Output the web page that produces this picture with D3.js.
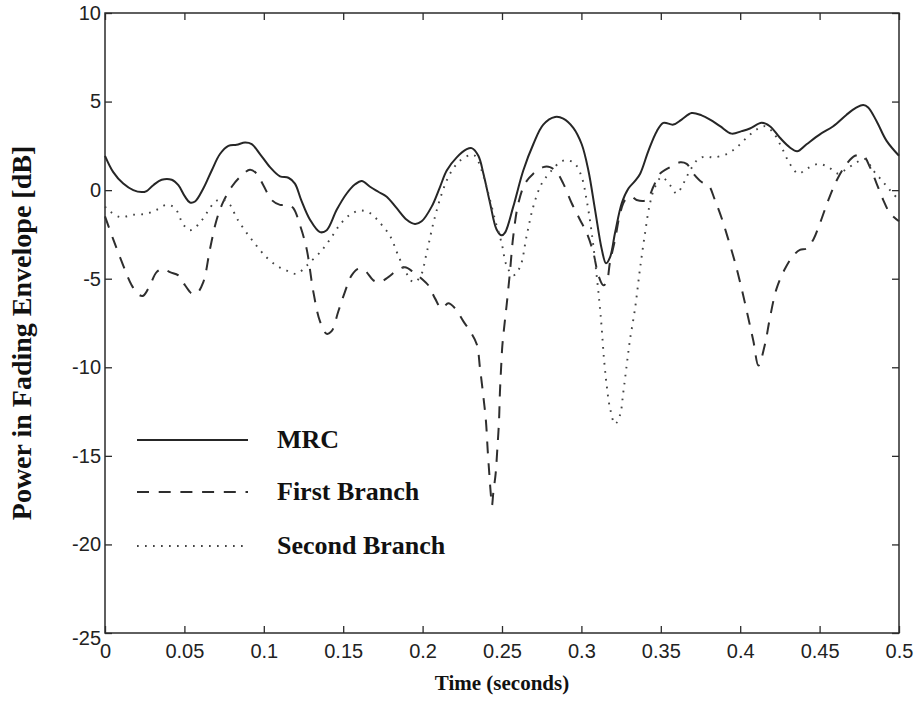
<!DOCTYPE html>
<html>
<head>
<meta charset="utf-8">
<script src="https://cdn.jsdelivr.net/npm/d3@7/dist/d3.min.js"></script>
<style>
  html, body { margin: 0; padding: 0; background: #fff; }
  svg { display: block; }
  .tick text { font-family: "Liberation Sans", Arial, sans-serif; font-size: 20px; fill: #222; }
  .title { font-family: "Liberation Serif", "Times New Roman", serif; font-weight: bold; fill: #111; }
</style>
</head>
<body>
<svg id="chart" width="920" height="701"></svg>
<script>
// Time axis ticks (seconds) and power axis ticks (dB)
const xTicks = [0, 0.05, 0.1, 0.15, 0.2, 0.25, 0.3, 0.35, 0.4, 0.45, 0.5];
const yTicks = [-25, -20, -15, -10, -5, 0, 5, 10];

// MRC combined envelope power
const mrcT = [0, .0052, .0115, .0178, .0231, .0262, .0304, .0357, .042, .0462, .0504, .0535, .0567, .0619, .0672, .0724, .0777, .0829, .0882, .0924, .0976, .1039, .1102, .1155, .1196, .1235, .1291, .1354, .1396, .1459, .1522, .1575, .1617, .1669, .1721, .1774, .1837, .19, .1952, .1994, .2057, .211, .2152, .2215, .2278, .2309, .2351, .2383, .2425, .2466, .2498, .2519, .2571, .2634, .2697, .276, .2834, .2886, .2949, .3002, .3044, .3086, .3128, .3155, .318, .3212, .3254, .3296, .3338, .337, .3422, .3475, .3516, .3579, .3631, .3694, .3757, .381, .3873, .3946, .4009, .4061, .4135, .4187, .425, .4313, .4359, .4418, .4502, .4586, .467, .4733, .4775, .4806, .4859, .4922, .5];
const mrcV = [1.94, 1.02, 0.37, 0.0, -0.11, -0.05, 0.28, 0.59, 0.59, 0.28, -0.37, -0.70, -0.64, 0.09, 1.11, 2.04, 2.5, 2.56, 2.69, 2.6, 2.04, 1.3, 0.78, 0.7, 0.37, -0.55, -1.67, -2.37, -2.26, -1.11, -0.19, 0.33, 0.52, 0.19, -0.09, -0.37, -1.02, -1.67, -1.91, -1.76, -0.93, 0.19, 1.11, 1.85, 2.31, 2.37, 1.94, 0.93, -0.74, -2.22, -2.55, -2.4, -0.93, 1.11, 2.59, 3.7, 4.13, 4.04, 3.52, 2.59, 1.11, -1.11, -3.33, -4.13, -3.8, -2.41, -0.74, 0.09, 0.52, 0.93, 2.22, 3.33, 3.8, 3.7, 3.98, 4.35, 4.22, 3.98, 3.61, 3.19, 3.33, 3.48, 3.8, 3.61, 2.96, 2.41, 2.19, 2.59, 3.15, 3.61, 4.26, 4.67, 4.81, 4.67, 3.89, 2.78, 1.94];

// First diversity branch
const firstT = [0, .0052, .0115, .0168, .021, .0241, .0283, .0325, .0367, .0409, .0462, .0504, .0546, .0577, .0619, .0661, .0703, .0745, .0798, .085, .0913, .0955, .0997, .105, .1102, .1155, .1186, .1228, .127, .1312, .1354, .1396, .1427, .1469, .1511, .1553, .1595, .1637, .169, .1732, .1784, .1837, .1889, .1942, .1994, .2036, .2078, .212, .2162, .2204, .2257, .2299, .2341, .2362, .2382, .2399, .241, .242, .2429, .2437, .2445, .246, .247, .2481, .2487, .2494, .2502, .2513, .2529, .255, .2571, .2603, .2645, .2697, .276, .2802, .2844, .2886, .2939, .2991, .3033, .3075, .3107, .3138, .3159, .318, .3212, .3244, .3275, .3317, .3348, .3411, .3453, .3495, .3558, .3621, .3663, .3705, .3757, .38, .3841, .3883, .3925, .3967, .4009, .4051, .4083, .4115, .4156, .4187, .4229, .4282, .4334, .4376, .4418, .4461, .4503, .4555, .4608, .467, .4723, .4775, .4817, .4859, .4901, .4943, .5];
const firstV = [-1.48, -2.78, -4.26, -5.37, -5.89, -5.96, -5.37, -4.63, -4.44, -4.63, -4.81, -5.37, -5.83, -5.83, -5.19, -3.33, -1.67, -0.65, 0.19, 0.74, 1.15, 0.93, 0.28, -0.56, -0.83, -0.83, -1.02, -1.98, -3.33, -5.74, -7.41, -8.11, -7.96, -6.85, -5.74, -4.81, -4.44, -4.54, -5.09, -5.19, -4.91, -4.54, -4.35, -4.63, -5.0, -5.37, -6.11, -6.67, -6.39, -6.67, -7.41, -7.96, -8.7, -10.1, -11.6, -13.05, -14.7, -16.0, -17.1, -17.8, -17.1, -16.0, -14.7, -13.05, -11.4, -10.1, -8.8, -7.8, -6.5, -4.63, -2.59, -0.74, 0.37, 0.93, 1.3, 1.3, 1.02, 0.37, -0.74, -1.67, -2.41, -3.52, -4.81, -5.37, -5.19, -4.07, -2.78, -1.3, -0.56, -0.37, -0.56, -0.56, 0.19, 0.93, 1.3, 1.57, 1.48, 0.93, 0.46, 0.28, -0.56, -1.57, -2.78, -4.07, -5.56, -7.22, -8.52, -9.9, -8.7, -7.22, -5.56, -4.44, -3.7, -3.37, -3.3, -2.78, -1.85, -0.56, 0.56, 1.48, 1.94, 1.94, 1.3, 0.37, -0.56, -1.3, -1.76];

// Second diversity branch
const secondT = [0, .0031, .0094, .0178, .0262, .0325, .0388, .0441, .0493, .0535, .0588, .064, .0693, .0735, .0787, .0829, .0892, .0955, .1018, .1081, .1144, .1207, .126, .1291, .1354, .1417, .148, .1543, .1606, .1669, .1732, .1795, .1847, .19, .1942, .1984, .2026, .2068, .2121, .2173, .2236, .2299, .233, .2372, .2414, .2456, .2498, .2529, .2571, .2613, .2655, .2697, .275, .2813, .2865, .2907, .296, .3002, .3033, .3065, .3096, .3117, .3127, .3142, .3159, .318, .3212, .3243, .3264, .3285, .3305, .3338, .3369, .3401, .3432, .3464, .3506, .3558, .36, .3642, .3684, .3736, .3783, .3831, .3915, .3978, .4041, .4104, .4156, .4209, .4261, .4313, .4366, .4418, .4492, .4555, .4618, .467, .4733, .4786, .4838, .4891, .4943, .5];
const secondV = [-0.93, -1.2, -1.52, -1.39, -1.33, -1.11, -0.83, -1.02, -1.94, -2.26, -1.94, -1.3, -0.65, -0.52, -0.83, -1.57, -2.41, -3.15, -3.8, -4.26, -4.54, -4.72, -4.35, -4.07, -3.52, -2.78, -1.94, -1.39, -1.15, -1.3, -1.85, -2.59, -3.7, -4.72, -5.19, -4.91, -3.52, -1.85, -0.19, 0.93, 1.67, 1.98, 1.94, 1.11, -0.19, -1.67, -3.0, -4.26, -4.81, -4.35, -2.59, -0.93, 0.37, 1.11, 1.57, 1.7, 1.48, 0.74, -0.56, -2.41, -4.81, -6.67, -7.7, -9.5, -11.0, -12.3, -13.2, -12.7, -11.4, -9.9, -8.5, -6.67, -4.44, -2.41, -0.74, 0.19, 0.74, 0.28, -0.19, 0.37, 1.11, 1.76, 1.9, 1.85, 2.04, 2.41, 2.96, 3.43, 3.61, 3.24, 2.41, 1.48, 0.93, 1.2, 1.48, 1.3, 0.93, 1.2, 1.57, 1.76, 1.11, 0.56, 0.0, -0.56];

const seriesNames = ["MRC", "First Branch", "Second Branch"];

const svg = d3.select("#chart");
const plotL = 105, plotR = 899, plotT = 13, plotB = 633;

const x = d3.scaleLinear().domain([0, 0.5]).range([plotL, plotR]);
const y = d3.scaleLinear().domain([-25, 10]).range([plotB, plotT]);

const ink = "#2b2b2b";

// Frame
svg.append("rect")
  .attr("x", plotL).attr("y", plotT)
  .attr("width", plotR - plotL).attr("height", plotB - plotT)
  .attr("fill", "none").attr("stroke", ink).attr("stroke-width", 1.5);

// Axes with inward ticks on all four sides; plain hyphen for negatives
const fmt = d => String(d);
const gB = svg.append("g").attr("transform", `translate(0,${plotB})`)
  .call(d3.axisBottom(x).tickValues(xTicks).tickSizeInner(-7).tickSizeOuter(0).tickPadding(11).tickFormat(fmt));
const gT = svg.append("g").attr("transform", `translate(0,${plotT})`)
  .call(d3.axisTop(x).tickValues(xTicks).tickSizeInner(-7).tickSizeOuter(0).tickFormat(""));
const gL = svg.append("g").attr("transform", `translate(${plotL},0)`)
  .call(d3.axisLeft(y).tickValues(yTicks).tickSizeInner(-7).tickSizeOuter(0).tickPadding(4).tickFormat(fmt));
const gR = svg.append("g").attr("transform", `translate(${plotR},0)`)
  .call(d3.axisRight(y).tickValues(yTicks).tickSizeInner(-7).tickSizeOuter(0).tickFormat(""));

[gB, gT, gL, gR].forEach(g => {
  g.select(".domain").remove();
  g.selectAll(".tick line").attr("stroke", ink).attr("stroke-width", 1.3);
  g.selectAll(".tick text").attr("fill", "#222");
});
// the lowest power label sits a little under its tick
gL.selectAll(".tick text").filter(d => d === -25).attr("dy", "0.55em");

// Curves
const line = d3.line()
  .x(d => x(d[0])).y(d => y(d[1]))
  .curve(d3.curveCatmullRom.alpha(0.5));

const zip = (ts, vs) => ts.map((t, i) => [t, vs[i]]);
const styles = [
  { data: zip(mrcT, mrcV), dash: null, width: 2, color: "#262626" },
  { data: zip(firstT, firstV), dash: "12,9.7", width: 2, color: "#2e2e2e" },
  { data: zip(secondT, secondV), dash: "1.7,6.3", width: 1.9, color: "#444" }
];

const plot = svg.append("g");
styles.forEach(s => {
  plot.append("path")
    .datum(s.data)
    .attr("d", line)
    .attr("fill", "none")
    .attr("stroke", s.color)
    .attr("stroke-width", s.width)
    .attr("stroke-dasharray", s.dash)
    .attr("stroke-linejoin", "round");
});

// Legend
const legY = [440, 492, 546];
const leg = svg.append("g");
seriesNames.forEach((name, i) => {
  const s = styles[i];
  leg.append("line")
    .attr("x1", 137).attr("x2", 248)
    .attr("y1", legY[i]).attr("y2", legY[i])
    .attr("stroke", s.color).attr("stroke-width", s.width)
    .attr("stroke-dasharray", s.dash);
  leg.append("text")
    .attr("class", "title")
    .attr("x", 277).attr("y", legY[i] + 8)
    .attr("font-size", 26)
    .text(name);
});

// Axis titles
svg.append("text")
  .attr("class", "title")
  .attr("x", (plotL + plotR) / 2).attr("y", 690)
  .attr("text-anchor", "middle")
  .attr("font-size", 21)
  .text("Time (seconds)");

svg.append("text")
  .attr("class", "title")
  .attr("transform", `translate(31,333) rotate(-90)`)
  .attr("text-anchor", "middle")
  .attr("font-size", 28)
  .text("Power in Fading Envelope [dB]");
</script>
</body>
</html>
